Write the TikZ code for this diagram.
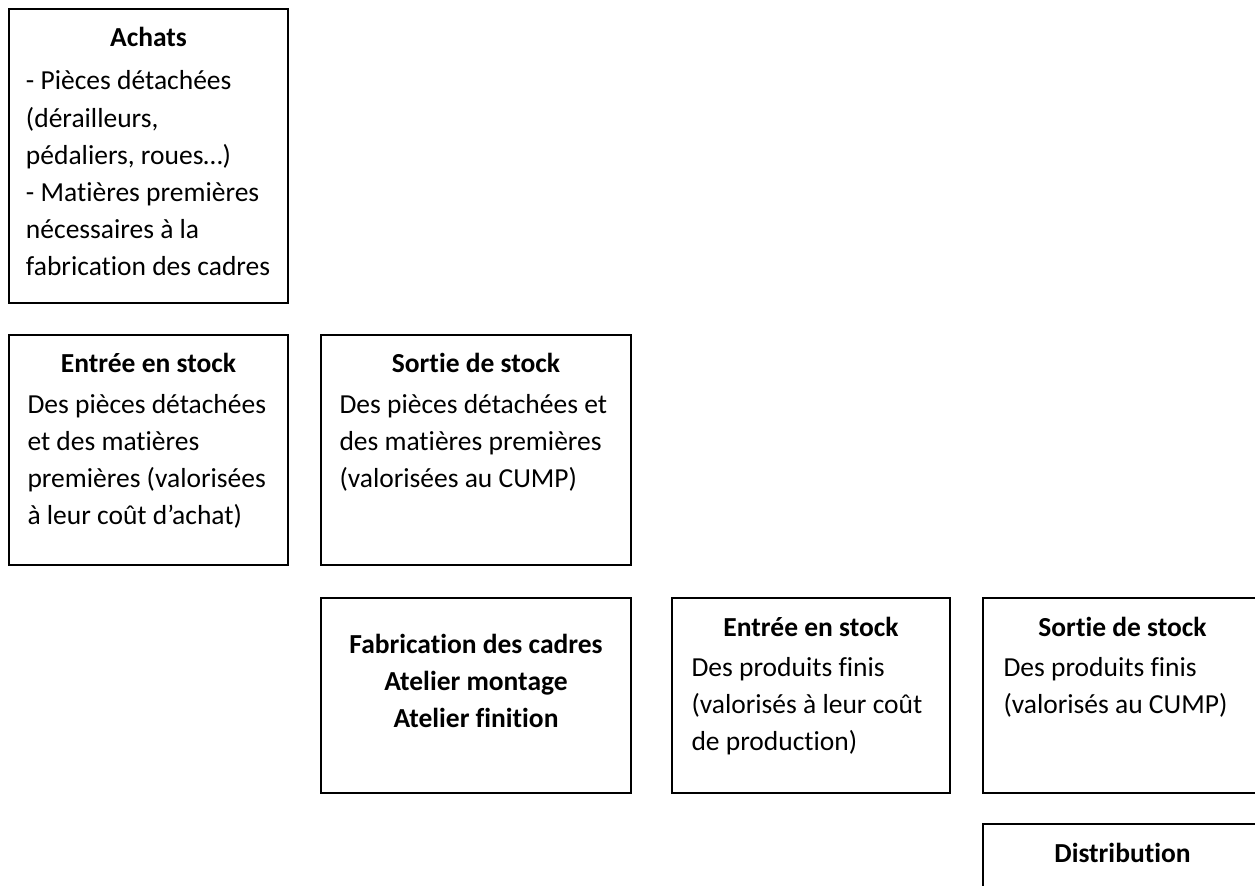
\documentclass[tikz,border=0pt]{standalone}
\usepackage{fontspec}
\setmainfont{Carlito}[Ligatures=NoCommon]
\usepackage{tikz}
\usetikzlibrary{positioning}

\begin{document}
\begin{tikzpicture}[x=0.4pt,y=-0.4pt]
    \tikzstyle{boite}=[draw, line width=0.8pt, rectangle, anchor=north west, inner sep=0pt]
    \tikzstyle{titre}=[anchor=base, inner sep=0pt, align=center
    , font=\fontsize{11}{14.8}\selectfont\bfseries]
    \tikzstyle{texte}=[anchor=base west, inner sep=0pt, align=left
    , font=\fontsize{11}{14.8}\selectfont]
    \useasboundingbox (0,0) rectangle (1255,886);
    % Draw the boxes
    \node[boite, minimum width=111.6pt, minimum height=117.6pt] (achats) at (8,8) {};
    \node[boite, minimum width=111.6pt, minimum height=92pt] (entreeA) at (8,334) {};
    \node[boite, minimum width=124pt, minimum height=92pt] (sortieA) at (320,334) {};
    \node[boite, minimum width=124pt, minimum height=78pt] (fab) at (320,597) {};
    \node[boite, minimum width=111.2pt, minimum height=78pt] (entreeB) at (671,597) {};
    \node[boite, minimum width=111.6pt, minimum height=78pt] (sortieB) at (982,597) {};
    \node[boite, minimum width=111.6pt, minimum height=80pt] (distrib) at (982,823) {};
    % Titles (base = last line)
    \node[titre] (tachats) at ([yshift=-15.6pt]achats.north) {Achats};
    \node[titre] (tentreeA) at ([yshift=-15.6pt]entreeA.north) {Entrée en stock};
    \node[titre] (tsortieA) at ([yshift=-15.6pt]sortieA.north) {Sortie de stock};
    \node[titre] (tfab) at ([yshift=-52pt]fab.north) {Fabrication des cadres\\Atelier montage\\Atelier finition};
    \node[titre] (tentreeB) at ([yshift=-15.6pt]entreeB.north) {Entrée en stock};
    \node[titre] (tsortieB) at ([yshift=-15.6pt]sortieB.north) {Sortie de stock};
    \node[titre] (tdistrib) at ([yshift=-15.6pt]distrib.north) {Distribution};
    % Texts
    \node[texte] (cachats) at ([xshift=7pt, yshift=-106.8pt]achats.north west)
      {- Pièces détachées\\(dérailleurs,\\pédaliers, roues…)\\- Matières premières\\nécessaires à la\\fabrication des cadres};
    \node[texte] (centreeA) at ([xshift=7.6pt, yshift=-76pt]entreeA.north west)
      {Des pièces détachées\\et des matières\\premières (valorisées\\à leur coût d’achat)};
    \node[texte] (csortieA) at ([xshift=7.6pt, yshift=-61.2pt]sortieA.north west)
      {Des pièces détachées et\\des matières premières\\(valorisées au CUMP)};
    \node[texte] (centreeB) at ([xshift=8pt, yshift=-61.2pt]entreeB.north west)
      {Des produits finis\\(valorisés à leur coût\\de production)};
    \node[texte] (csortieB) at ([xshift=8.4pt, yshift=-46.4pt]sortieB.north west)
      {Des produits finis\\(valorisés au CUMP)};
\end{tikzpicture}
\end{document}
